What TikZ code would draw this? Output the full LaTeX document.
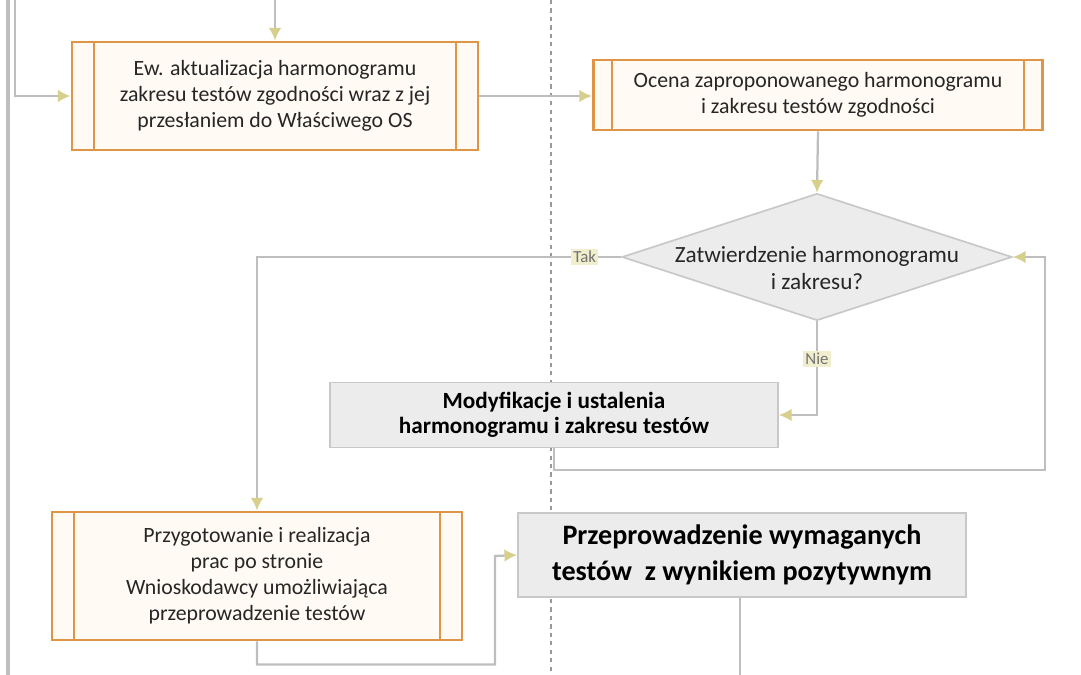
\documentclass[tikz,border=0pt]{standalone}
\usepackage{fontspec}
\setmainfont{Carlito}
\usepackage{tikz}
\usetikzlibrary{shapes,arrows.meta}
\definecolor{pp_orange}{RGB}{222, 150, 70}
\definecolor{pp_fill}{RGB}{255, 250, 243}
\definecolor{pr_fill}{RGB}{236, 236, 236}
\definecolor{pr_line}{RGB}{200, 200, 200}
\definecolor{ln_gray}{RGB}{190, 190, 190}
\definecolor{tip_col}{RGB}{214, 208, 140}
\definecolor{lbl_fill}{RGB}{240, 238, 205}
\tikzstyle{pp}=[rectangle,fill=pp_fill,draw=pp_orange,line width=2pt,
  align=center,inner sep=4pt,text=black!85,font=\fontsize{15.5}{18.5}\selectfont]
\tikzstyle{ppbar}=[draw=pp_orange,line width=1.6pt]
\tikzstyle{pr}=[rectangle,fill=pr_fill,draw=pr_line,line width=1.2pt,
  align=center,inner sep=4pt]
\tikzstyle{dec}=[diamond,fill=pr_fill,draw=pr_line,line width=1.2pt,
  inner sep=0pt]
\tikzstyle{flow}=[draw=ln_gray,line width=1.6pt,
  -{Latex[length=9pt,width=9pt,color=tip_col]}]
\tikzstyle{wire}=[draw=ln_gray,line width=1.6pt]
\tikzstyle{lbl}=[fill=lbl_fill,inner sep=1.5pt,font=\fontsize{12}{14}\selectfont,
  text=black!55]

\begin{document}
\begin{tikzpicture}[x=0.025cm,y=-0.025cm]
    \useasboundingbox (0,0) rectangle (1081,675);
    % lane borders
    \draw [draw=ln_gray,line width=2.4pt] (8,0) -- (8,675);
    \draw [draw=black!40,line width=1.4pt,dashed] (551,0) -- (551,675);

    \node [style=pp,minimum width=10.15cm,minimum height=2.7cm] (update) at (275,96)
      {Ew. aktualizacja harmonogramu\\zakresu testów zgodności wraz z jej\\przesłaniem do Właściwego OS};
    \node [style=pp,minimum width=11.225cm,minimum height=1.75cm] (review) at (818,95)
      {Ocena zaproponowanego harmonogramu\\i zakresu testów zgodności};
    \node [style=dec,minimum width=9.75cm,minimum height=3.175cm,aspect=3.07] (approve) at (817,257) {};
    \node [align=center,text=black!85,font=\fontsize{16.5}{19}\selectfont] (approvetxt) at (817,268)
      {Zatwierdzenie harmonogramu\\i zakresu?};
    \node [style=pr,minimum width=11.2cm,minimum height=1.625cm,
      font=\bfseries\fontsize{16.5}{18}\selectfont] (modify) at (554,415)
      {Modyfikacje i ustalenia\\harmonogramu i zakresu testów};
    \node [style=pp,minimum width=10.25cm,minimum height=3.2cm] (prepare) at (257,576)
      {Przygotowanie i realizacja\\prac po stronie\\Wnioskodawcy umożliwiająca\\przeprowadzenie testów};
    \node [style=pr,minimum width=11.2cm,minimum height=2.1cm,
      font=\bfseries\fontsize{20}{26}\selectfont] (tests) at (742,555)
      {Przeprowadzenie wymaganych\\testów\ \ z wynikiem pozytywnym};

    % side bars of the predefined processes
    \draw [style=ppbar] ([xshift=0.58cm]update.north west) -- ([xshift=0.58cm]update.south west);
    \draw [style=ppbar] ([xshift=-0.58cm]update.north east) -- ([xshift=-0.58cm]update.south east);
    \draw [style=ppbar] ([xshift=0.5cm]review.north west) -- ([xshift=0.5cm]review.south west);
    \draw [style=ppbar] ([xshift=-0.5cm]review.north east) -- ([xshift=-0.5cm]review.south east);
    \draw [style=ppbar] ([xshift=0.58cm]prepare.north west) -- ([xshift=0.58cm]prepare.south west);
    \draw [style=ppbar] ([xshift=-0.58cm]prepare.north east) -- ([xshift=-0.58cm]prepare.south east);

    \coordinate (intop) at (275,0);
    \coordinate (inleft) at (15,0);
    \coordinate (outbottom) at (740,675);

    \draw [style=flow] (intop) to (update.north);
    \draw [style=flow] (inleft) |- (update.west);
    \draw [style=flow] (update.east) to (review.west |- update.east);
    \draw [style=flow] (review.south) to (approve.north);
    \draw [style=flow] (approve.west) -| node [style=lbl,pos=0.05] (yes) {Tak} (prepare.north);
    \draw [style=flow] (approve.south) |- node [style=lbl,pos=0.2] (no) {Nie} (modify.east);
    \draw [style=flow] (modify.south) -- ++(0,22) -| (1045,257) -- (approve.east);
    \draw [style=flow] (prepare.south) -- ++(0,23) -| (495,556) -- (tests.west);
    \draw [style=wire] (tests.south -| outbottom) to (outbottom);
  \end{tikzpicture}
\end{document}
